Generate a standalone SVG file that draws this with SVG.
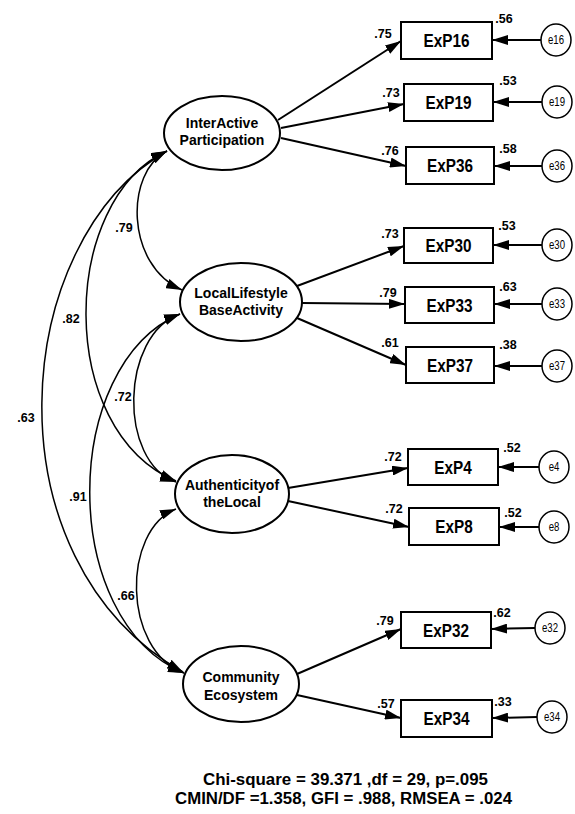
<svg xmlns="http://www.w3.org/2000/svg" width="575" height="814" viewBox="0 0 575 814">
<defs>
<marker id="ah" viewBox="0 0 16 10" refX="16" refY="5" markerWidth="16" markerHeight="10" markerUnits="userSpaceOnUse" orient="auto-start-reverse">
<path d="M0,0 L16,5 L0,10 z" fill="#000"/>
</marker>
</defs>
<style>
text{font-family:"Liberation Sans",Arial,sans-serif;fill:#000}
.lat{fill:#fff;stroke:#000;stroke-width:2}
.box{fill:#fff;stroke:#000;stroke-width:2}
.err{fill:#fff;stroke:#000;stroke-width:1.5}
.pa{stroke:#000;stroke-width:2;fill:none;marker-end:url(#ah)}
.cov{stroke:#000;stroke-width:1.5;fill:none;marker-start:url(#ah);marker-end:url(#ah)}
.lbl{font-size:14px;font-weight:bold;text-anchor:middle}
.obs{font-size:18px;font-weight:bold;text-anchor:middle}
.etx{font-size:12px;text-anchor:middle}
.num{font-size:12.5px;font-weight:bold;text-anchor:middle}
.fit{font-size:16px;font-weight:bold}
</style>
<rect width="575" height="814" fill="#fff"/>

<g id="IA"><ellipse class="lat" cx="222" cy="133" rx="58" ry="37"/><text class="lbl" x="222" y="128">InterActive</text><text class="lbl" x="222" y="145">Participation</text></g>
<g id="LL"><ellipse class="lat" cx="241" cy="302" rx="61" ry="39"/><text class="lbl" x="241" y="298">LocalLifestyle</text><text class="lbl" x="241" y="315">BaseActivity</text></g>
<g id="AU"><ellipse class="lat" cx="232" cy="494" rx="57" ry="39"/><text class="lbl" x="232" y="490">Authenticityof</text><text class="lbl" x="232" y="507">theLocal</text></g>
<g id="CO"><ellipse class="lat" cx="241" cy="684" rx="58" ry="38"/><text class="lbl" x="241" y="682">Community</text><text class="lbl" x="241" y="700">Ecosystem</text></g>

<g id="ExP16"><rect class="box" x="401" y="22" width="91" height="37"/><text class="obs" transform="translate(446.5 47) scale(.85 1)">ExP16</text></g>
<g id="ExP19"><rect class="box" x="404" y="84" width="89" height="37"/><text class="obs" transform="translate(448.5 109) scale(.85 1)">ExP19</text></g>
<g id="ExP36"><rect class="box" x="406" y="147" width="88" height="37"/><text class="obs" transform="translate(450 172) scale(.85 1)">ExP36</text></g>
<g id="ExP30"><rect class="box" x="404" y="228" width="89" height="35"/><text class="obs" transform="translate(448.5 252) scale(.85 1)">ExP30</text></g>
<g id="ExP33"><rect class="box" x="405" y="287" width="89" height="36"/><text class="obs" transform="translate(449.5 311.5) scale(.85 1)">ExP33</text></g>
<g id="ExP37"><rect class="box" x="406" y="347" width="88" height="36"/><text class="obs" transform="translate(450 371.5) scale(.85 1)">ExP37</text></g>
<g id="ExP4"><rect class="box" x="408" y="449" width="90" height="36"/><text class="obs" transform="translate(453 473.5) scale(.85 1)">ExP4</text></g>
<g id="ExP8"><rect class="box" x="409" y="508" width="90" height="37"/><text class="obs" transform="translate(454 533) scale(.85 1)">ExP8</text></g>
<g id="ExP32"><rect class="box" x="401" y="612" width="90" height="36"/><text class="obs" transform="translate(446 636.5) scale(.85 1)">ExP32</text></g>
<g id="ExP34"><rect class="box" x="401" y="700" width="91" height="37"/><text class="obs" transform="translate(446.5 725) scale(.85 1)">ExP34</text></g>

<g id="e16"><ellipse class="err" cx="556" cy="40" rx="15" ry="16"/><text class="etx" transform="translate(556 44) scale(.8 1)">e16</text></g>
<g id="e19"><ellipse class="err" cx="557" cy="102" rx="15" ry="16"/><text class="etx" transform="translate(557 106) scale(.8 1)">e19</text></g>
<g id="e36"><ellipse class="err" cx="557" cy="166" rx="15" ry="16"/><text class="etx" transform="translate(557 170) scale(.8 1)">e36</text></g>
<g id="e30"><ellipse class="err" cx="557" cy="245" rx="15" ry="16"/><text class="etx" transform="translate(557 249) scale(.8 1)">e30</text></g>
<g id="e33"><ellipse class="err" cx="557" cy="304" rx="15" ry="16"/><text class="etx" transform="translate(557 308) scale(.8 1)">e33</text></g>
<g id="e37"><ellipse class="err" cx="557" cy="366" rx="15" ry="16"/><text class="etx" transform="translate(557 370) scale(.8 1)">e37</text></g>
<g id="e4"><ellipse class="err" cx="554" cy="467" rx="15" ry="16"/><text class="etx" transform="translate(554 471) scale(.8 1)">e4</text></g>
<g id="e8"><ellipse class="err" cx="554" cy="527" rx="15" ry="16"/><text class="etx" transform="translate(554 531) scale(.8 1)">e8</text></g>
<g id="e32"><ellipse class="err" cx="550" cy="628" rx="15" ry="16"/><text class="etx" transform="translate(550 632) scale(.8 1)">e32</text></g>
<g id="e34"><ellipse class="err" cx="552" cy="717" rx="15" ry="16"/><text class="etx" transform="translate(552 721) scale(.8 1)">e34</text></g>

<g id="connectors">
<line class="pa" x1="278" y1="120" x2="401" y2="41"/>
<line class="pa" x1="281" y1="128" x2="404" y2="104"/>
<line class="pa" x1="281" y1="138" x2="406" y2="166"/>
<line class="pa" x1="297" y1="286" x2="404" y2="246"/>
<line class="pa" x1="302" y1="303" x2="405" y2="304"/>
<line class="pa" x1="297" y1="318" x2="406" y2="365"/>
<line class="pa" x1="288" y1="488" x2="408" y2="468"/>
<line class="pa" x1="288" y1="501" x2="409" y2="527"/>
<line class="pa" x1="297" y1="674" x2="401" y2="629"/>
<line class="pa" x1="297" y1="695" x2="401" y2="718"/>

<line class="pa" x1="541" y1="40" x2="492" y2="40"/>
<line class="pa" x1="542" y1="102" x2="493" y2="102"/>
<line class="pa" x1="542" y1="166" x2="494" y2="166"/>
<line class="pa" x1="542" y1="245" x2="493" y2="245"/>
<line class="pa" x1="542" y1="304" x2="494" y2="304"/>
<line class="pa" x1="542" y1="366" x2="494" y2="366"/>
<line class="pa" x1="539" y1="467" x2="498" y2="467"/>
<line class="pa" x1="539" y1="527" x2="499" y2="527"/>
<line class="pa" x1="535" y1="628" x2="491" y2="629"/>
<line class="pa" x1="537" y1="717" x2="492" y2="718"/>

<path class="cov" d="M167,151 C125,172 125,265 182,290"/>
<path class="cov" d="M167,151 C60,200 55,430 176,481"/>
<path class="cov" d="M167,151 C10,240 -15,560 183,672"/>
<path class="cov" d="M180,314 C120,335 118,462 176,482"/>
<path class="cov" d="M180,314 C60,365 58,620 184,673"/>
<path class="cov" d="M176,509 C122,530 122,650 184,673"/>
</g>

<g id="labels">
<text class="num" x="383" y="38">.75</text><text class="num" x="504" y="23">.56</text>
<text class="num" x="391" y="97">.73</text><text class="num" x="508" y="85">.53</text>
<text class="num" x="390" y="155">.76</text><text class="num" x="508" y="153">.58</text>
<text class="num" x="390" y="238">.73</text><text class="num" x="507" y="230">.53</text>
<text class="num" x="388" y="297">.79</text><text class="num" x="508" y="291">.63</text>
<text class="num" x="390" y="347">.61</text><text class="num" x="508" y="349">.38</text>
<text class="num" x="393" y="461">.72</text><text class="num" x="512" y="452">.52</text>
<text class="num" x="394" y="513">.72</text><text class="num" x="513" y="517">.52</text>
<text class="num" x="385" y="625">.79</text><text class="num" x="502" y="617">.62</text>
<text class="num" x="386" y="708">.57</text><text class="num" x="503" y="706">.33</text>
<text class="num" x="124" y="232">.79</text>
<text class="num" x="71" y="323">.82</text>
<text class="num" x="123" y="401">.72</text>
<text class="num" x="26" y="422">.63</text>
<text class="num" x="78" y="501">.91</text>
<text class="num" x="126" y="600">.66</text>
<text class="fit" x="203" y="785" textLength="285" lengthAdjust="spacingAndGlyphs">Chi-square = 39.371 ,df = 29, p=.095</text>
<text class="fit" x="175" y="804" textLength="337" lengthAdjust="spacingAndGlyphs">CMIN/DF =1.358, GFI = .988, RMSEA = .024</text>
</g>
</svg>
